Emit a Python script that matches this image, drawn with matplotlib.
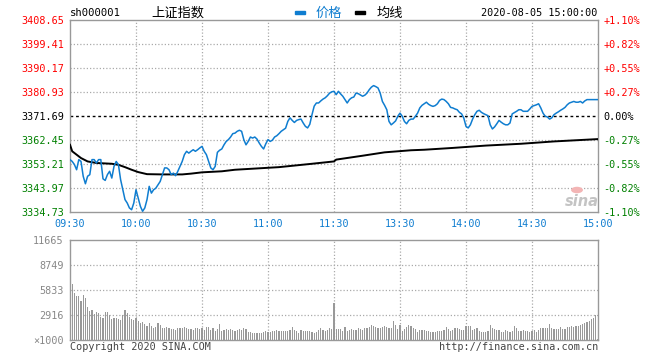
import matplotlib
matplotlib.use("Agg")
import matplotlib.pyplot as plt
from matplotlib.patches import Rectangle, Circle

# ---------------- data ----------------
prev_close = 3371.69
price_ticks = [3334.73, 3343.97, 3353.21, 3362.45, 3371.69, 3380.93, 3390.17, 3399.41, 3408.65]
pct_labels = ["-1.10%", "-0.82%", "-0.55%", "-0.27%", "0.00%", "+0.27%", "+0.55%", "+0.82%", "+1.10%"]
time_ticks = [0, 30, 60, 90, 120, 150, 180, 210, 240]
time_labels = ["09:30", "10:00", "10:30", "11:00", "11:30", "13:30", "14:00", "14:30", "15:00"]
vol_ticks = [0, 2916, 5833, 8749, 11665]
vol_labels = ["\u00d71000", "2916", "5833", "8749", "11665"]

price = [
    3354.9, 3354.2, 3353.0, 3351.0, 3354.9, 3354.2, 3348.5, 3345.6, 3348.5, 3349.1,
    3354.9, 3354.9, 3353.6, 3354.9, 3354.9, 3347.5, 3346.9, 3349.1, 3350.4, 3347.8,
    3352.3, 3354.2, 3353.0, 3347.2, 3343.3, 3339.5, 3338.2, 3336.3, 3335.6, 3338.2,
    3343.3, 3340.1, 3336.9, 3335.0, 3336.3, 3339.5, 3344.6, 3342.0, 3343.3, 3343.9,
    3345.2, 3346.5, 3349.1, 3351.7, 3351.7, 3351.0, 3349.1, 3349.7, 3348.7, 3350.4,
    3352.3, 3354.2, 3356.8, 3358.1, 3357.4, 3358.1, 3358.7, 3358.1, 3358.7, 3359.4,
    3360.0, 3358.1, 3356.8, 3354.2, 3351.7, 3351.0, 3352.3, 3357.7, 3358.5, 3359.0,
    3360.6, 3361.9, 3362.6, 3363.6, 3364.9, 3365.1, 3365.8, 3366.2, 3365.8, 3362.6,
    3360.6, 3361.9, 3363.6, 3363.2, 3363.6, 3362.8, 3361.3, 3360.0, 3359.0, 3361.0,
    3362.6, 3361.9, 3362.4, 3363.6, 3364.1, 3364.9, 3365.8, 3366.4, 3367.0, 3369.6,
    3371.0, 3370.0, 3369.2, 3370.0, 3370.3, 3370.5, 3369.0, 3367.7, 3367.1, 3368.5,
    3372.2, 3375.5, 3376.7, 3376.7, 3377.5, 3378.2, 3378.7, 3379.5, 3380.5, 3381.0,
    3381.2, 3379.9, 3381.2, 3380.2, 3379.3, 3378.0, 3376.7, 3378.0, 3378.7, 3379.0,
    3380.5, 3380.3, 3379.8, 3379.3, 3379.7, 3380.5, 3381.8, 3382.8, 3383.4, 3383.0,
    3382.5, 3380.5, 3377.3, 3375.8, 3374.1, 3369.6, 3368.3, 3369.0, 3369.8, 3371.6,
    3372.8, 3371.6, 3369.6, 3368.7, 3370.0, 3370.5, 3370.5, 3371.6, 3372.8, 3374.8,
    3375.8, 3376.4, 3377.0, 3376.2, 3375.7, 3375.4, 3375.7, 3376.4, 3377.7, 3378.2,
    3378.0, 3377.3, 3376.4, 3375.0, 3374.8, 3374.4, 3374.1, 3373.1, 3372.5, 3370.9,
    3367.7, 3367.1, 3368.3, 3370.5, 3372.2, 3373.5, 3373.9, 3373.1, 3372.6, 3372.2,
    3371.8, 3368.3, 3366.7, 3367.5, 3368.7, 3370.0, 3369.3, 3368.7, 3368.3, 3368.3,
    3369.0, 3372.5, 3373.0, 3373.5, 3374.1, 3374.1, 3373.5, 3373.5, 3373.5, 3374.4,
    3375.4, 3375.7, 3376.0, 3376.4, 3374.8, 3372.8, 3371.6, 3371.3, 3370.5, 3371.0,
    3372.2, 3372.8, 3373.3, 3373.9, 3374.4, 3375.0, 3376.0, 3376.7, 3377.0, 3377.3,
    3377.0, 3377.0, 3377.3, 3376.7, 3377.5, 3378.0, 3378.0, 3378.0, 3378.0, 3378.0,
    3378.0,
]
minutes = list(range(len(price)))

avg_minutes = [0, 1, 3, 5, 8, 12, 19, 22, 25, 28, 31, 35, 42, 51, 55, 60, 69, 75, 81,
               95, 110, 120, 121, 133, 143, 155, 161, 174, 189, 205, 220, 240]
avg_price = [3360.6, 3358.1, 3356.8, 3355.5, 3354.2, 3353.6, 3353.3, 3352.9, 3352.0,
             3351.0, 3350.1, 3349.3, 3349.2, 3349.2, 3349.5, 3350.0, 3350.4, 3351.0,
             3351.3, 3352.0, 3353.3, 3354.2, 3354.9, 3356.4, 3357.7, 3358.5, 3358.7,
             3359.4, 3360.3, 3361.0, 3361.9, 3362.8]

volume = [
    11665, 6532, 5521, 5171, 5171, 4588, 5249, 4938, 3888, 3383,
    3499, 2994, 3227, 3110, 2722, 2605, 3227, 3227, 2916, 2449,
    2605, 2605, 2449, 2333, 2916, 3499, 3110, 2722, 2449, 2333,
    2605, 2216, 1944, 2061, 1827, 1633, 1944, 1672, 1439, 1555,
    1944, 1750, 1361, 1439, 1555, 1361, 1283, 1283, 1166, 1361,
    1439, 1361, 1516, 1439, 1283, 1244, 1166, 1361, 1439, 1283,
    1439, 1166, 1555, 1555, 1166, 1439, 1050, 1283, 1827, 1050,
    1166, 1283, 1166, 1283, 1166, 1050, 1166, 1283, 1166, 1361,
    1283, 972, 894, 778, 778, 778, 778, 778, 894, 1050,
    972, 894, 1050, 1050, 1166, 1050, 1050, 1050, 1050, 1050,
    1166, 1555, 1166, 1050, 778, 1166, 1050, 1050, 1050, 1050,
    894, 778, 894, 1166, 1439, 1166, 1050, 1166, 1439, 1283,
    4300, 1283, 1283, 1283, 1050, 1555, 1050, 1166, 1283, 1166,
    1166, 1361, 1283, 1166, 1361, 1439, 1555, 1750, 1672, 1555,
    1439, 1439, 1555, 1672, 1555, 1439, 1439, 2216, 1750, 1283,
    1750, 1050, 1283, 1555, 1750, 1672, 1439, 1283, 972, 1166,
    1166, 1166, 1050, 1050, 894, 894, 894, 1050, 1050, 1050,
    1166, 1555, 1283, 1050, 1166, 1439, 1439, 1283, 1166, 1166,
    1672, 1672, 1672, 1166, 1283, 1439, 1050, 894, 894, 894,
    1050, 1750, 1439, 1283, 1166, 1166, 894, 894, 1166, 1050,
    894, 1050, 1672, 1439, 1050, 1050, 1166, 1050, 1050, 894,
    1050, 1166, 972, 1166, 1439, 1439, 1439, 1439, 1827, 1439,
    1283, 1283, 1283, 1555, 1283, 1283, 1555, 1555, 1672, 1555,
    1672, 1672, 1750, 1827, 1944, 2061, 2216, 2449, 2527, 2916,
    117,
]
vol_minutes = list(range(len(volume)))

# ---------------- style ----------------
W, H = 660, 360
def fx(px):
    return px / W
def fy(py):
    return 1 - py / H

MONO = "DejaVu Sans Mono"
CJK = ["Noto Sans CJK SC", "DejaVu Sans"]
BLUE = "#0f7dd0"
GRID = "#aaaaaa"
FRAME = "#999999"
RED = "#ff0000"
GREEN = "#008000"

fig = plt.figure(figsize=(W / 100, H / 100), dpi=100)
fig.patch.set_facecolor("white")

# price axes
axp = fig.add_axes([fx(70), fy(212), fx(598) - fx(70), fy(20) - fy(212)])
axp.set_xlim(0, 240)
axp.set_ylim(price_ticks[0], price_ticks[-1])
for s in axp.spines.values():
    s.set_color(FRAME)
    s.set_linewidth(1)

for t in time_ticks[1:-1]:
    axp.axvline(t, color=GRID, lw=0.9, ls=(0, (1, 1.6)), zorder=1)
for p in price_ticks[1:-1]:
    if abs(p - prev_close) < 1e-6:
        axp.axhline(p, color="black", lw=1.0, ls=(0, (2, 2)), zorder=1)
    else:
        axp.axhline(p, color=GRID, lw=0.9, ls=(0, (1, 1.6)), zorder=1)

axp.plot(avg_minutes, avg_price, color="black", lw=1.4, zorder=3)
axp.plot(minutes, price, color=BLUE, lw=1.1, zorder=4)

axp.set_yticks(price_ticks)
axp.set_yticklabels([f"{p:.2f}" for p in price_ticks], fontfamily=MONO, fontsize=7.3)
for lbl, p in zip(axp.get_yticklabels(), price_ticks):
    lbl.set_color(RED if p > prev_close + 1e-6 else (GREEN if p < prev_close - 1e-6 else "black"))
axp.tick_params(axis="y", length=0, pad=4.5)

axp.set_xticks(time_ticks)
axp.set_xticklabels(time_labels, fontfamily=MONO, fontsize=7.3, color=BLUE)
axp.tick_params(axis="x", length=0, pad=5)

axr = axp.twinx()
axr.set_ylim(price_ticks[0], price_ticks[-1])
axr.set_yticks(price_ticks)
axr.set_yticklabels(pct_labels, fontfamily=MONO, fontsize=7.3)
for lbl, txt in zip(axr.get_yticklabels(), pct_labels):
    lbl.set_color(RED if txt.startswith("+") else (GREEN if txt.startswith("-") else "black"))
axr.tick_params(axis="y", length=0, pad=4)
for s in axr.spines.values():
    s.set_visible(False)

# volume axes
axv = fig.add_axes([fx(70), fy(340), fx(598) - fx(70), fy(240) - fy(340)])
axv.set_xlim(0, 240)
axv.set_ylim(0, vol_ticks[-1])
for s in axv.spines.values():
    s.set_color(FRAME)
    s.set_linewidth(1)
for t in time_ticks[1:-1]:
    axv.axvline(t, color=GRID, lw=0.9, ls=(0, (1, 1.6)), zorder=1)
for v in vol_ticks[1:-1]:
    axv.axhline(v, color=GRID, lw=0.9, ls=(0, (1, 1.6)), zorder=1)
axv.bar(vol_minutes, volume, width=0.5, color="#999999", align="center", zorder=2)
axv.set_xticks([])
axv.set_yticks(vol_ticks)
axv.set_yticklabels(vol_labels, fontfamily=MONO, fontsize=7.3, color="#888888")
axv.tick_params(axis="y", length=0, pad=4.5)

# header texts
fig.text(fx(70), fy(13), "sh000001", fontfamily=MONO, fontsize=7.6, color="black", va="center", ha="left")
fig.text(fx(151), fy(13), "上证指数", family=CJK, fontsize=9.5, color="black", va="center", ha="left")
fig.patches.append(Rectangle((fx(295), fy(14)), fx(10), fy(11) - fy(14), transform=fig.transFigure,
                             color=BLUE, figure=fig))
fig.text(fx(316), fy(13), "价格", family=CJK, fontsize=9.5, color=BLUE, va="center", ha="left")
fig.patches.append(Rectangle((fx(355), fy(14)), fx(10), fy(11) - fy(14), transform=fig.transFigure,
                             color="black", figure=fig))
fig.text(fx(377), fy(13), "均线", family=CJK, fontsize=9.5, color="black", va="center", ha="left")
fig.text(fx(597), fy(13), "2020-08-05 15:00:00", fontfamily=MONO, fontsize=7.3, color="black",
         va="center", ha="right")

# footer texts
fig.text(fx(70), fy(347), "Copyright 2020 SINA.COM", fontfamily=MONO, fontsize=7.3, color="#444444",
         va="center", ha="left")
fig.text(fx(598), fy(347), "http://finance.sina.com.cn", fontfamily=MONO, fontsize=7.3, color="#444444",
         va="center", ha="right")

# sina watermark
fig.patches.append(Circle((fx(577), fy(190)), 0.009, transform=fig.transFigure,
                          facecolor="#f3b5b5", edgecolor="none", figure=fig))
fig.text(fx(582), fy(201), "sina", fontsize=10.5, fontweight="bold", fontstyle="italic",
         color="#c4c4c4", va="center", ha="center")

fig.savefig("out.png", dpi=100, facecolor="white")
